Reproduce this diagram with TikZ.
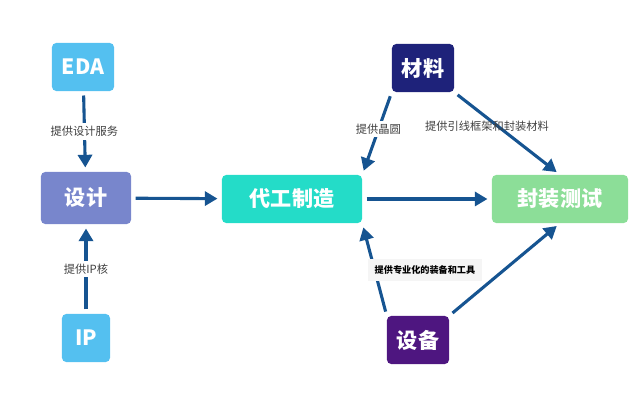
\documentclass[tikz,border=0pt]{standalone}
\usepackage{fontspec}
\setmainfont{Noto Sans CJK SC}
\definecolor{ArrowBlue}{RGB}{22, 84, 145}
\definecolor{SkyBlue}{RGB}{84, 192, 240}
\definecolor{Lavender}{RGB}{120, 134, 204}
\definecolor{Teal}{RGB}{36, 220, 200}
\definecolor{Mint}{RGB}{140, 222, 152}
\definecolor{Navy}{RGB}{30, 34, 122}
\definecolor{Grape}{RGB}{78, 22, 128}
\usetikzlibrary{arrows.meta}

\begin{document}
\begin{tikzpicture}[x=0.025cm, y=-0.025cm]
        \tikzstyle{box} = [rectangle, rounded corners=3pt, text=white, font=\bfseries\fontsize{15}{18}\selectfont, minimum height=1.2cm, inner sep=2pt]
        \tikzstyle{arrow} = [-{Triangle[length=9pt, width=10pt]}, line width=2.2pt, ArrowBlue, shorten >=3pt, shorten <=3pt]
        \tikzstyle{tag} = [font=\fontsize{8}{10}\selectfont, text=black!75, fill=white, inner sep=2pt]

        \useasboundingbox (0,0) rectangle (640,405);

        % Nodes
        \node (eda) [box, fill=SkyBlue, minimum width=1.55cm] at (83,67) {EDA};
        \node (design) [box, fill=Lavender, minimum width=2.25cm, minimum height=1.3cm] at (86,198) {设计};
        \node (ip) [box, fill=SkyBlue, minimum width=1.2cm] at (86,338) {IP};
        \node (fab) [box, fill=Teal, minimum width=3.5cm] at (292,199) {代工制造};
        \node (material) [box, fill=Navy, minimum width=1.55cm] at (423,68) {材料};
        \node (pack) [box, fill=Mint, minimum width=3.4cm] at (560,199) {封装测试};
        \node (equip) [box, fill=Grape, minimum width=1.55cm] at (418,340) {设备};

        % Arrows
        \draw [arrow] (eda) -- node[tag] {提供设计服务} (design);
        \draw [arrow] (ip) -- node[tag] {提供IP核} (design);
        \draw [arrow] (design) -- (fab);
        \draw [arrow] (fab) -- (pack);
        \draw [arrow] (material.south west) -- node[tag, pos=0.45] {提供晶圆} (fab.north east);
        \draw [arrow] (material.south east) -- (pack.north);
        \node [tag, fill=none] at (487,126) {提供引线框架和封装材料};
        \draw [arrow] (equip.north west) -- (fab.south east);
        \draw [arrow] (equip.north east) -- (pack.south);

        % Label box
        \node (equiptag) [font=\bfseries\fontsize{6.5}{8}\selectfont, fill=black!4, inner sep=5pt] at (425,270) {提供专业化的装备和工具};
\end{tikzpicture}
\end{document}
